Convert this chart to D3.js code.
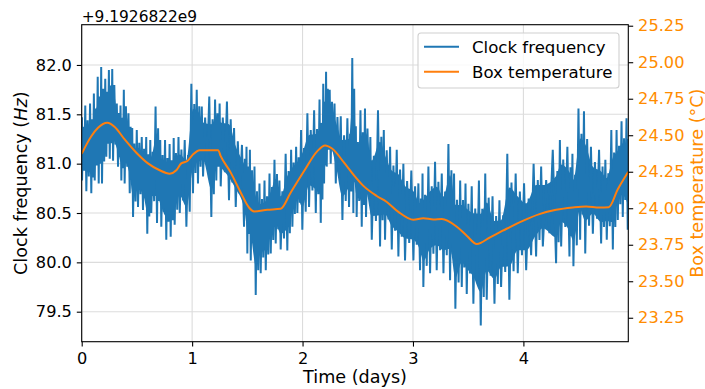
<!DOCTYPE html>
<html>
<head>
<meta charset="utf-8">
<script src="https://cdn.jsdelivr.net/npm/d3@7/dist/d3.min.js"></script>
<style>
body{margin:0;background:#fff;}
text{font-family:"DejaVu Sans",sans-serif;}
</style>
</head>
<body>
<svg id="chart" width="705" height="389"></svg>
<script>
// Clock frequency envelope (offset +9.1926822e9 Hz)
const freqDays = [0.003,0.042,0.087,0.118,0.154,0.184,0.223,0.254,0.284,0.329,0.359,0.389,0.435,0.465,0.510,0.555,0.594,0.630,0.682,0.721,0.766,0.806,0.842,0.888,0.948,1.008,1.053,1.099,1.174,1.219,1.259,1.334,1.395,1.470,1.500,1.531,1.576,1.621,1.667,1.712,1.757,1.802,1.862,1.908,1.953,1.998,2.059,2.120,2.165,2.195,2.219,2.255,2.301,2.361,2.421,2.460,2.490,2.536,2.575,2.627,2.702,2.747,2.808,2.868,2.928,3.004,3.064,3.094,3.155,3.215,3.276,3.336,3.384,3.442,3.487,3.547,3.614,3.668,3.738,3.798,3.873,3.949,4.025,4.115,4.176,4.296,4.342,4.417,4.453,4.514,4.560,4.629,4.704,4.755,4.810,4.855,4.900,4.945];
const freqHigh = [81.47,81.59,81.61,81.71,81.88,81.98,81.86,81.95,81.96,81.61,81.59,81.75,81.51,81.36,81.34,81.27,81.27,81.24,81.58,81.24,81.24,81.20,81.26,81.27,81.24,81.81,81.75,81.58,81.68,81.65,81.61,81.63,81.36,81.19,81.17,81.14,80.97,80.80,80.83,80.90,81.04,80.83,81.10,81.14,81.17,81.34,81.51,81.54,81.65,81.81,81.93,81.75,81.61,81.48,81.46,82.07,81.38,81.54,81.56,81.27,81.54,81.34,81.17,81.14,81.00,80.93,80.80,80.90,80.97,81.02,80.90,81.20,80.90,80.83,80.80,80.77,80.83,80.90,80.67,80.63,81.10,80.90,80.80,81.00,80.97,81.14,81.24,81.17,81.10,81.56,81.53,81.17,81.14,81.04,81.34,81.34,81.43,81.46];
const freqLow = [80.83,80.72,80.70,80.83,80.80,80.80,81.07,81.05,81.03,80.97,80.83,80.80,80.70,80.46,80.56,80.53,80.29,80.50,80.40,80.36,80.23,80.26,80.38,80.50,80.36,80.70,80.80,80.87,80.46,80.83,80.77,80.63,80.56,80.36,80.09,80.02,79.67,79.89,79.92,80.09,80.19,80.13,80.12,80.36,80.50,80.33,80.56,80.50,80.40,80.80,80.97,81.00,80.80,80.43,80.56,80.50,80.46,80.36,80.46,80.23,80.16,80.23,80.13,80.06,80.02,80.02,79.92,79.75,79.89,79.92,79.89,79.82,79.53,79.75,79.68,79.58,79.36,79.62,79.58,79.75,79.62,79.89,79.92,80.06,80.16,79.99,80.16,80.06,79.96,80.23,80.09,80.29,80.19,80.23,80.13,80.43,80.46,80.33];

// Box temperature (°C)
const tempDays = [0,0.087,0.148,0.232,0.299,0.389,0.495,0.600,0.706,0.797,0.857,0.902,0.957,1.008,1.069,1.198,1.235,1.259,1.350,1.440,1.515,1.561,1.681,1.802,1.893,2.014,2.134,2.204,2.270,2.376,2.466,2.551,2.672,2.763,2.868,3.004,3.094,3.185,3.261,3.397,3.487,3.578,3.698,3.813,3.995,4.145,4.296,4.447,4.568,4.688,4.773,4.855,4.950];
const tempValues = [24.373,24.493,24.551,24.585,24.557,24.471,24.380,24.307,24.260,24.237,24.260,24.307,24.323,24.369,24.398,24.398,24.398,24.357,24.244,24.108,24.005,23.978,23.989,23.996,24.108,24.255,24.391,24.430,24.407,24.312,24.225,24.153,24.084,24.043,23.975,23.921,23.932,23.923,23.926,23.873,23.812,23.755,23.801,23.846,23.914,23.960,23.989,24.005,24.012,24.005,24.007,24.130,24.250];

const xTicks = [0,1,2,3,4];
const leftTicks = [79.5,80.0,80.5,81.0,81.5,82.0];
const rightTicks = [23.25,23.50,23.75,24.00,24.25,24.50,24.75,25.00,25.25];

const BLUE = "#1f77b4", ORANGE = "#ff7f0e", ORANGE_TXT = "#ff8c00";
const L = 81.7, R = 628.3, T = 24.7, B = 341.7;
const TICK_FS = 16.2, LABEL_FS = 17.6, LEG_FS = 16.6, OFF_FS = 15.4;
const CORE = 0.27;

const svg = d3.select("#chart");
const x = d3.scaleLinear().domain([0, 4.95]).range([L, R]);
const yL = d3.scaleLinear().domain([79.196, 82.408]).range([B, T]);
const yR = d3.scaleLinear().domain([23.086, 25.257]).range([B, T]);

// grid
const grid = svg.append("g");
grid.selectAll(".gx").data(xTicks).join("line")
  .attr("x1", d => x(d)).attr("x2", d => x(d)).attr("y1", T).attr("y2", B)
  .attr("stroke", "#dcdcdc").attr("stroke-width", 1.1);
grid.selectAll(".gy").data(leftTicks).join("line")
  .attr("x1", L).attr("x2", R).attr("y1", d => yL(d)).attr("y2", d => yL(d))
  .attr("stroke", "#dcdcdc").attr("stroke-width", 1.1);

svg.append("clipPath").attr("id", "pc").append("rect")
  .attr("x", L).attr("y", T).attr("width", R - L).attr("height", B - T);

// clock frequency: dense core band + zigzag to read envelope extremes
const core = freqDays.map((d, i) => {
  const mid = (freqHigh[i] + freqLow[i]) / 2, rng = freqHigh[i] - freqLow[i];
  return { d, top: mid + rng * CORE, bot: mid - rng * CORE };
});
svg.append("path").datum(core)
  .attr("clip-path", "url(#pc)")
  .attr("d", d3.area().curve(d3.curveMonotoneX).x(p => x(p.d)).y0(p => yL(p.bot)).y1(p => yL(p.top)))
  .attr("fill", BLUE);

const pts = [];
freqDays.forEach((d, i) => {
  const next = i < freqDays.length - 1 ? freqDays[i + 1] : Math.min(4.95, d + 0.02);
  const prev = i > 0 ? freqDays[i - 1] : 0;
  const a = d - (d - prev) / 4, b = d + (next - d) / 4;
  pts.push([a, freqHigh[i]]);
  pts.push([d, freqLow[i]]);
  pts.push([b, core[i].top + 0.05]);
  pts.push([(d + next) / 2, core[i].bot - 0.05]);
});
svg.append("path").datum(pts)
  .attr("clip-path", "url(#pc)")
  .attr("d", d3.line().x(p => x(p[0])).y(p => yL(p[1])))
  .attr("fill", "none").attr("stroke", BLUE).attr("stroke-width", 2).attr("stroke-linejoin", "miter");

// temperature line
svg.append("path").datum(tempDays.map((d, i) => [d, tempValues[i]]))
  .attr("clip-path", "url(#pc)")
  .attr("d", d3.line().curve(d3.curveMonotoneX).x(p => x(p[0])).y(p => yR(p[1])))
  .attr("fill", "none").attr("stroke", ORANGE).attr("stroke-width", 2);

// axes
const fmt1 = d3.format(".1f"), fmt2 = d3.format(".2f");
const xAxis = svg.append("g").attr("transform", `translate(0,${B})`)
  .call(d3.axisBottom(x).tickValues(xTicks).tickFormat(d3.format("d")).tickSize(4.9).tickPadding(4.9));
const lAxis = svg.append("g").attr("transform", `translate(${L},0)`)
  .call(d3.axisLeft(yL).tickValues(leftTicks).tickFormat(fmt1).tickSize(4.9).tickPadding(4.9));
const rAxis = svg.append("g").attr("transform", `translate(${R},0)`)
  .call(d3.axisRight(yR).tickValues(rightTicks).tickFormat(fmt2).tickSize(4.9).tickPadding(4.9));
[xAxis, lAxis, rAxis].forEach(g => {
  g.select(".domain").remove();
  g.selectAll("line").attr("stroke", "#000").attr("stroke-width", 1.1);
  g.selectAll("text").attr("font-size", TICK_FS).attr("font-family", "DejaVu Sans").attr("fill", "#000");
});
rAxis.selectAll("text").attr("fill", ORANGE_TXT);
xAxis.selectAll("text").attr("dy", "0.76em");

// spines
svg.append("rect").attr("x", L).attr("y", T).attr("width", R - L).attr("height", B - T)
  .attr("fill", "none").attr("stroke", "#000").attr("stroke-width", 1.1);

// labels
svg.append("text").attr("x", L).attr("y", 21.5).attr("font-size", OFF_FS).text("+9.1926822e9");
svg.append("text").attr("x", (L + R) / 2).attr("y", 383).attr("text-anchor", "middle")
  .attr("font-size", LABEL_FS).text("Time (days)");
const yl = svg.append("text").attr("transform", `translate(27,${(T + B) / 2}) rotate(-90)`)
  .attr("text-anchor", "middle").attr("font-size", LABEL_FS);
yl.append("tspan").text("Clock frequency (");
yl.append("tspan").attr("font-style", "italic").text("Hz");
yl.append("tspan").text(")");
svg.append("text").attr("transform", `translate(702.5,${(T + B) / 2}) rotate(-90)`)
  .attr("text-anchor", "middle").attr("font-size", LABEL_FS).attr("fill", ORANGE_TXT)
  .text("Box temperature (°C)");

// legend
const lg = svg.append("g");
lg.append("rect").attr("x", 418).attr("y", 33).attr("width", 201).attr("height", 55).attr("rx", 3)
  .attr("fill", "#fff").attr("fill-opacity", 0.8).attr("stroke", "#d0d0d0").attr("stroke-width", 1.1);
const items = [["Clock frequency", BLUE], ["Box temperature", ORANGE]];
items.forEach((it, i) => {
  const yy = 46.7 + i * 25;
  lg.append("line").attr("x1", 424).attr("x2", 459).attr("y1", yy).attr("y2", yy)
    .attr("stroke", it[1]).attr("stroke-width", 2);
  lg.append("text").attr("x", 472).attr("y", yy + 6).attr("font-size", LEG_FS).text(it[0]);
});
</script>
</body>
</html>
